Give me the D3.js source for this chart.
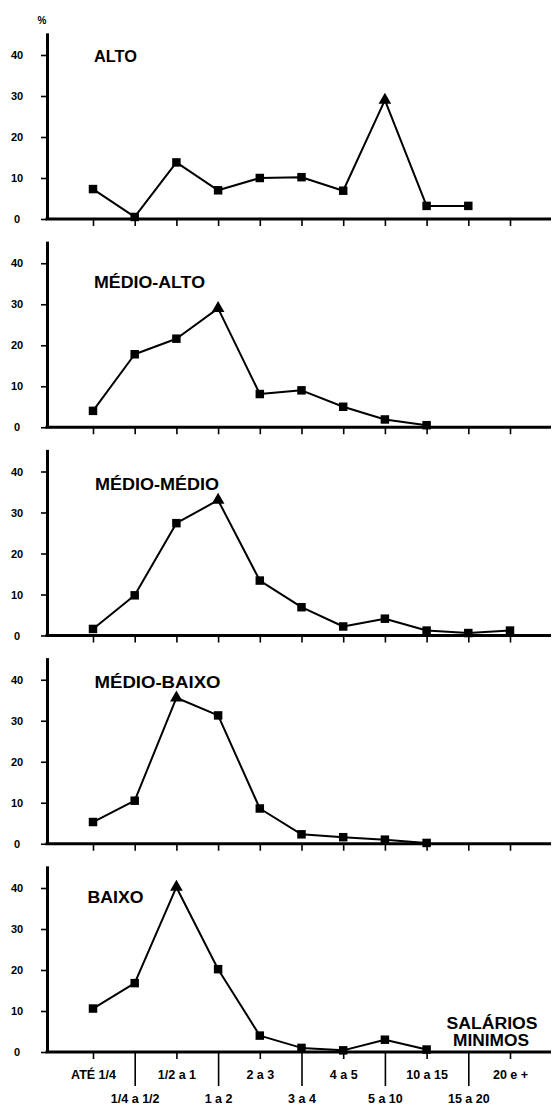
<!DOCTYPE html>
<html><head><meta charset="utf-8">
<script src="https://cdn.jsdelivr.net/npm/d3@7"></script>
<style>
html,body{margin:0;padding:0;background:#fff;}
svg{display:block;}
text{font-family:"Liberation Sans",Arial,sans-serif;font-weight:bold;fill:#000;}
</style></head>
<body>
<svg id="c" width="553" height="1105"></svg>
<script>
// ---- data ----
const categories = ["ATÉ 1/4","1/4 a 1/2","1/2 a 1","1 a 2","2 a 3","3 a 4","4 a 5","5 a 10","10 a 15","15 a 20","20 e +"];
const panelNames = ["ALTO","MÉDIO-ALTO","MÉDIO-MÉDIO","MÉDIO-BAIXO","BAIXO"];
const alto       = [7.3, 0.5, 13.8, 7.0, 10.0, 10.2, 6.9, 29.0, 3.2, 3.2, null];
const medioAlto  = [4.0, 17.8, 21.6, 29.0, 8.1, 9.0, 5.0, 1.9, 0.5, null, null];
const medioMedio = [1.6, 9.8, 27.4, 33.0, 13.4, 6.9, 2.2, 4.1, 1.2, 0.6, 1.2];
const medioBaixo = [5.3, 10.5, 35.6, 31.3, 8.6, 2.3, 1.6, 1.0, 0.2, null, null];
const baixo      = [10.6, 16.8, 40.2, 20.2, 4.0, 1.0, 0.4, 3.0, 0.6, null, null];
const yTicks = [0, 10, 20, 30, 40];
const unitLabel = "%";
const xTitle = ["SALÁRIOS", "MINIMOS"];

// ---- layout ----
const series = [alto, medioAlto, medioMedio, medioBaixo, baixo];
const titleLevel = [38.3, 34.0, 35.5, 38.0, 36.3];
const titleX = [94, 94, 95, 94.5, 87.5];
const titleW = [43, 111, 124, 126, 56];
const axisX = 47, axisRight = 551;
const pxPerUnit = 4.1;
const topVal = 45.4;

const svg = d3.select("#c");
const x = d3.scalePoint().domain(categories).range([93, 510]);

series.forEach((vals, i) => {
  const y0 = 219 + i * 208.25;
  const y = d3.scaleLinear().domain([0, topVal]).range([y0, y0 - topVal * pxPerUnit]);
  const g = svg.append("g");

  // y axis
  const ya = g.append("g").attr("transform", `translate(${axisX},0)`)
    .call(d3.axisLeft(y).tickValues(yTicks).tickSize(6).tickSizeOuter(0).tickFormat(d3.format("d")));
  ya.select(".domain").attr("stroke", "#000").attr("stroke-width", 3);
  ya.selectAll(".tick line").attr("stroke", "#000").attr("stroke-width", 1.6);
  ya.selectAll(".tick text").attr("x", -30).attr("text-anchor", "middle")
    .style("font-size", "11px").style("font-family", '"Liberation Sans",Arial,sans-serif').style("font-weight", "bold");

  // x axis
  const last = i === series.length - 1;
  const xa = g.append("g").attr("transform", `translate(0,${y0})`)
    .call(d3.axisBottom(x).tickSize(7).tickSizeOuter(0).tickFormat(last ? null : ""));
  xa.select(".domain").remove();
  xa.selectAll(".tick line").attr("stroke", "#000").attr("stroke-width", 1.6)
    .attr("y2", (d, k) => last && k % 2 === 1 ? 34 : 7);
  if (last) {
    xa.selectAll(".tick text")
      .attr("y", (d, k) => k % 2 === 0 ? 27 : 51).attr("dy", 0)
      .style("font-size", "12.5px").style("font-family", '"Liberation Sans",Arial,sans-serif').style("font-weight", "bold");
  }
  g.append("line").attr("x1", axisX - 1.5).attr("x2", axisRight)
    .attr("y1", y0).attr("y2", y0).attr("stroke", "#000").attr("stroke-width", 3);

  // line
  const pts = categories.map((c, k) => ({c, v: vals[k]})).filter(d => d.v != null);
  g.append("path").datum(pts)
    .attr("fill", "none").attr("stroke", "#000").attr("stroke-width", 2).attr("stroke-linejoin", "round")
    .attr("d", d3.line().x(d => x(d.c)).y(d => y(d.v)));

  // markers
  const maxV = d3.max(pts, d => d.v);
  g.selectAll("path.m").data(pts).enter().append("path").attr("class", "m")
    .attr("transform", d => `translate(${x(d.c)},${y(d.v)})`)
    .attr("d", d => d.v === maxV ? d3.symbol(d3.symbolTriangle, 70)() : d3.symbol(d3.symbolSquare, 72)())
    .attr("fill", "#000");

  // title
  g.append("text").attr("x", titleX[i]).attr("y", y(titleLevel[i]))
    .attr("textLength", titleW[i]).attr("lengthAdjust", "spacingAndGlyphs")
    .style("font-size", "16px").text(panelNames[i]);

  if (i === 0) {
    g.append("text").attr("x", 42).attr("y", 24).attr("text-anchor", "middle")
      .style("font-size", "10px").text(unitLabel);
  }
  if (last) {
    g.append("text").attr("x", 492).attr("y", y0 - 23).attr("text-anchor", "middle")
      .attr("textLength", 91).attr("lengthAdjust", "spacingAndGlyphs")
      .style("font-size", "16px").text(xTitle[0]);
    g.append("text").attr("x", 491).attr("y", y0 - 6.5).attr("text-anchor", "middle")
      .attr("textLength", 76).attr("lengthAdjust", "spacingAndGlyphs")
      .style("font-size", "16px").text(xTitle[1]);
  }
});
</script>
</body></html>
